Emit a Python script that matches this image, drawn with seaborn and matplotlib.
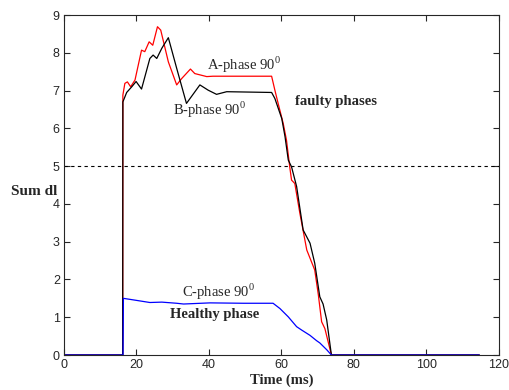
import numpy as np
import pandas as pd
import matplotlib
matplotlib.use('Agg')
import matplotlib.pyplot as plt
import seaborn as sns

# values
t_a = [0, 16.2, 16.25, 16.8, 17.5, 18.4, 19.6, 21.4, 22.3, 23.5, 24.5, 25.8, 26.7, 28.8,
       31.1, 32.5, 34.9, 36.1, 39.4, 41.1, 57.3, 58.2, 59.1, 60.5, 61.4, 62.3, 62.8,
       63.7, 65.1, 67.0, 69.2, 70.2, 71.1, 72.0, 73.8, 114.6]
a_phase = [0, 0, 6.88, 7.19, 7.23, 7.10, 7.28, 8.07, 8.03, 8.29, 8.20, 8.69, 8.60, 7.76,
           7.15, 7.32, 7.57, 7.45, 7.37, 7.38, 7.38, 7.01, 6.66, 6.13, 5.69, 4.98, 4.63,
           4.54, 3.75, 2.78, 2.25, 1.59, 0.88, 0.70, 0, 0]

t_b = [0, 16.2, 16.25, 17.3, 18.7, 19.9, 21.4, 23.7, 24.6, 25.6, 27.0, 28.8, 31.1, 33.8,
       37.5, 39.8, 42.1, 44.9, 57.3, 58.2, 60.1, 61.0, 61.9, 62.8, 64.2, 66.0, 67.9,
       69.2, 70.6, 71.5, 72.5, 73.8, 114.6]
b_phase = [0, 0, 6.70, 6.95, 7.10, 7.24, 7.04, 7.85, 7.94, 7.85, 8.12, 8.40, 7.59, 6.66,
           7.15, 7.01, 6.90, 6.97, 6.95, 6.79, 6.26, 5.78, 5.16, 4.98, 4.46, 3.31, 2.96,
           2.43, 1.54, 1.35, 0.93, 0, 0]

t_c = [0, 16.3, 16.4, 19.1, 23.7, 27.0, 31.1, 33.0, 40.3, 49.5, 57.7, 59.6, 61.9, 64.2,
       65.6, 67.9, 69.7, 70.6, 72.5, 73.8, 114.6]
c_phase = [0, 0, 1.50, 1.46, 1.39, 1.40, 1.37, 1.35, 1.38, 1.37, 1.37, 1.23, 1.01, 0.75,
           0.66, 0.52, 0.38, 0.32, 0.14, 0, 0]

threshold = 5

sns.set_style('ticks')
plt.rcParams['font.family'] = ['Liberation Sans', 'DejaVu Sans']
plt.rcParams['mathtext.fontset'] = 'custom'
plt.rcParams['mathtext.rm'] = 'Liberation Serif'

fig = plt.figure(figsize=(5.09, 3.9), dpi=100)
ax = fig.add_axes([0.1257, 0.0897, 0.8543, 0.8718])

kw = dict(estimator=None, sort=False, linewidth=0.9, ax=ax)
sns.lineplot(x=t_a, y=a_phase, color='red', **kw)
sns.lineplot(x=t_b, y=b_phase, color='black', **kw)
sns.lineplot(x=t_c, y=c_phase, color='blue', **kw)
ax.axhline(threshold, color='black', linestyle=(0, (3, 3)), linewidth=0.8)

ax.set_xlim(0, 120)
ax.set_ylim(0, 9)
ax.set_xticks(np.arange(0, 121, 20))
ax.set_yticks(np.arange(0, 10, 1))
ax.tick_params(direction='in', top=True, right=True, length=4, labelsize=9, pad=3)
for s in ax.spines.values():
    s.set_linewidth(0.8)

serif = 'Liberation Serif'
ax.set_xlabel('Time (ms)', family=serif, fontweight='bold', fontsize=10.5, labelpad=2)
ax.set_ylabel('Sum dl', family=serif, fontweight='bold', fontsize=11, rotation=0,
              ha='center', va='center')
ax.yaxis.set_label_coords(-0.068, 0.48)

ax.text(39.4, 7.68, 'A-phase 90$^\\mathrm{0}$', family=serif, fontsize=10.5, va='center')
ax.text(30.0, 6.49, 'B-phase 90$^\\mathrm{0}$', family=serif, fontsize=10.5, va='center')
ax.text(32.7, 1.68, 'C-phase 90$^\\mathrm{0}$', family=serif, fontsize=10.5, va='center')
ax.text(63.7, 6.70, 'faulty phases', family=serif, fontsize=10.5, fontweight='bold', va='center')
ax.text(29.2, 1.06, 'Healthy phase', family=serif, fontsize=10.5, fontweight='bold', va='center')

fig.savefig('out.png', dpi=100)
